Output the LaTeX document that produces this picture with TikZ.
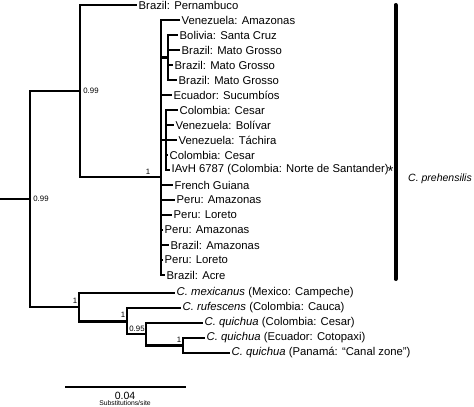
\documentclass[tikz,border=0pt]{standalone}
\usepackage{fontspec}
\setmainfont{Liberation Sans}
\begin{document}
\begin{tikzpicture}[x=1pt, y=-1pt,
    branch/.style={line width=2.8pt, line join=miter},
    leaf/.style={anchor=west, inner sep=1.5pt, font=\fontsize{11.3}{13}\selectfont},
    support/.style={inner sep=0pt, font=\fontsize{7.8}{9}\selectfont}]
  \useasboundingbox (0,0) rectangle (474,407);

  % internal nodes
  \coordinate (root) at (0,199);
  \coordinate (r) at (30,199);
  \coordinate (a) at (80,91);
  \coordinate (b) at (161,177);
  \coordinate (bol) at (168,57.5);
  \coordinate (col) at (166,140);
  \coordinate (m) at (79,307);
  \coordinate (rq) at (127,321.5);
  \coordinate (q) at (146,334);
  \coordinate (qe) at (183,345.5);

  % tips
  \foreach \p/\x/\y/\t [count=\i from 0] in {
      a/137/5/{Brazil: Pernambuco},
      b/180/20/{Venezuela: Amazonas},
      bol/178/35/{Bolivia: Santa Cruz},
      bol/180/50/{Brazil: Mato Grosso},
      bol/173/65/{Brazil: Mato Grosso},
      bol/177/80/{Brazil: Mato Grosso},
      b/172/95/{Ecuador: Sucumbíos},
      col/178/110/{Colombia: Cesar},
      col/174/125/{Venezuela: Bolívar},
      col/177/140/{Venezuela: Táchira},
      col/168/155/{Colombia: Cesar},
      col/170/170/{IAvH 6787 (Colombia: Norte de Santander)},
      b/173/185/{French Guiana},
      b/175/200/{Peru: Amazonas},
      b/172/215/{Peru: Loreto},
      b/163/230/{Peru: Amazonas},
      b/169/245/{Brazil: Amazonas},
      b/163/260/{Peru: Loreto},
      b/165/275/{Brazil: Acre},
      m/175/293/{\textit{C. mexicanus} (Mexico: Campeche)},
      rq/181/308/{\textit{C. rufescens} (Colombia: Cauca)},
      q/203/323/{\textit{C. quichua} (Colombia: Cesar)},
      qe/205/338/{\textit{C. quichua} (Ecuador: Cotopaxi)},
      qe/230/353/{\textit{C. quichua} (Panamá: “Canal zone”)}}
  {
    \node [leaf] (leaf-\i) at (\x,\y) {\t};
    \draw [branch] (\p) |- (leaf-\i.west);
  }

  % backbone
  \draw [branch] (root) -- (r);
  \draw [branch] (r) |- (a);
  \draw [branch] (r) |- (m);
  \draw [branch] (a) |- (b);
  \draw [branch] (b) |- (bol);
  \draw [branch] (b) |- (col);
  \draw [branch] (m) |- (rq);
  \draw [branch] (rq) |- (q);
  \draw [branch] (q) |- (qe);

  % posterior probabilities
  \node [support] (pp-r) at (41,199) {0.99};
  \node [support] (pp-a) at (91,91) {0.99};
  \node [support] (pp-b) at (148,172) {1};
  \node [support] (pp-m) at (75,301) {1};
  \node [support] (pp-rq) at (123,315) {1};
  \node [support] (pp-q) at (137,329) {0.95};
  \node [support] (pp-qe) at (179,340) {1};

  \node [inner sep=0pt, font=\fontsize{15}{15}\selectfont] (star) at (390.5,171) {*};

  % clade bar
  \draw [line width=4pt, line cap=round] (395.5,5) -- (395.5,279);
  \node [anchor=west, inner sep=0pt, font=\fontsize{10.5}{12}\selectfont\itshape] (clade) at (408,179) {C. prehensilis};

  % scale
  \coordinate (sb-l) at (65,387);
  \coordinate (sb-r) at (186,387);
  \draw [line width=2.4pt] (sb-l) -- (sb-r);
  \node [inner sep=0pt, font=\fontsize{10.5}{11}\selectfont] (sb-len) at (125,396) {0.04};
  \node [inner sep=0pt, font=\fontsize{6.8}{7}\selectfont] (sb-unit) at (125,403.5) {Substitutions/site};
\end{tikzpicture}
\end{document}
